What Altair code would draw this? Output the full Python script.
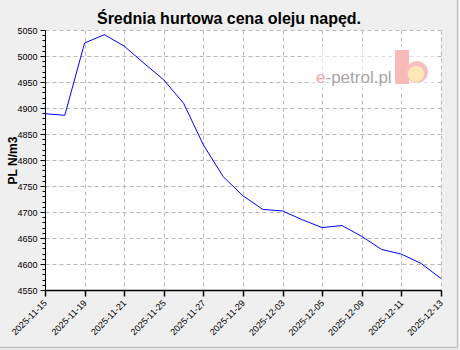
import altair as alt
import pandas as pd

# ---- data ----
dates = ["2025-11-15", "2025-11-18", "2025-11-19", "2025-11-20", "2025-11-21",
         "2025-11-22", "2025-11-25", "2025-11-26", "2025-11-27", "2025-11-28",
         "2025-11-29", "2025-12-02", "2025-12-03", "2025-12-04", "2025-12-05",
         "2025-12-06", "2025-12-09", "2025-12-10", "2025-12-11", "2025-12-12",
         "2025-12-13"]
prices = [4889, 4886, 5025, 5041, 5019, 4986, 4954, 4909, 4829, 4768,
          4731, 4705, 4702, 4685, 4670, 4674, 4653, 4628, 4619, 4601, 4572]
tick_dates = dates[::2]
y_ticks = list(range(4550, 5051, 10))
title_text = "Średnia hurtowa cena oleju napęd."
y_title = "PL N/m3"

df = pd.DataFrame({"date": dates, "price": prices})

FONT = "Liberation Sans"
W, H = 396, 260

base = alt.Chart(df)

line = base.mark_line(color="#0000ff", strokeWidth=1).encode(
    x=alt.X("date:O",
            scale=alt.Scale(type="point", padding=0),
            axis=alt.Axis(values=tick_dates, labelAngle=-45, labelAlign="right",
                          labelBaseline="middle", labelFontSize=9, labelFont=FONT,
                          labelColor="black", labelPadding=5,
                          domainColor="black", domainWidth=1.5,
                          tickColor="black", tickSize=6, tickWidth=1.5,
                          grid=True, gridDash=[4, 3], gridColor="#b9b9b9",
                          title=None)),
    y=alt.Y("price:Q",
            scale=alt.Scale(domain=[4550, 5050], nice=False, zero=False),
            axis=alt.Axis(values=y_ticks,
                          labelExpr="datum.value % 50 === 0 ? datum.label : ''",
                          format="d", labelFontSize=9, labelFont=FONT,
                          labelColor="black", labelPadding=3,
                          domainColor="black", domainWidth=1,
                          tickColor="black", tickWidth=1,
                          tickSize={"condition": {"test": "datum.value % 50 === 0", "value": 5}, "value": 3},
                          grid=True, gridDash=[4, 3], gridColor="#b9b9b9",
                          gridOpacity={"condition": {"test": "datum.value % 50 === 0", "value": 1}, "value": 0},
                          title=y_title, titleFont=FONT, titleFontSize=12,
                          titleFontWeight="bold", titleColor="black",
                          titleX=-33, titleY=H / 2, titleAngle=-90,
                          titleAlign="center", titleBaseline="middle")),
)

# ---- chart title (as a text mark, centred on the whole picture) ----
title_mark = alt.Chart(df.head(1)).mark_text(text=title_text, font=FONT, fontSize=16,
                                             fontWeight="bold", fill="black",
                                             align="center", baseline="alphabetic").encode(
    x=alt.value(184), y=alt.value(-6))

# ---- watermark logo (decoration) ----
logo_bg = alt.Chart(df.head(1)).mark_rect(color="white", opacity=0.55).encode(
    x=alt.value(265), x2=alt.value(392), y=alt.value(16), y2=alt.value(63))
logo_e = alt.Chart(df.head(1)).mark_text(text="e", fill="#f3a5a5", fontSize=17, font=FONT,
                                         align="left", baseline="alphabetic").encode(
    x=alt.value(271), y=alt.value(53))
logo_rest = alt.Chart(df.head(1)).mark_text(text="-petrol.pl", fill="#a6a6a6", fontSize=17, font=FONT,
                                            align="left", baseline="alphabetic").encode(
    x=alt.value(280.5), y=alt.value(53))
logo_rect = alt.Chart(df.head(1)).mark_rect(color="#f8b9b9").encode(
    x=alt.value(350), x2=alt.value(364), y=alt.value(20), y2=alt.value(54))
logo_c1 = alt.Chart(df.head(1)).mark_point(filled=True, color="#f8c0c0", opacity=1, size=480, shape="circle").encode(
    x=alt.value(372), y=alt.value(42))
logo_c2 = alt.Chart(df.head(1)).mark_point(filled=True, color="#fde8b8", opacity=1, size=260, shape="circle").encode(
    x=alt.value(371), y=alt.value(44))

# frame lines (right / bottom edge of the image)
frame_r = alt.Chart(df.head(1)).mark_rule(color="#c4c4c4", strokeWidth=1.5).encode(
    x=alt.value(412.5), y=alt.value(-30), y2=alt.value(317.5))
frame_b = alt.Chart(df.head(1)).mark_rule(color="#c4c4c4", strokeWidth=1.5).encode(
    x=alt.value(-45), x2=alt.value(413), y=alt.value(317.5))

chart = alt.layer(logo_bg, logo_e, logo_rest, logo_rect, logo_c1, logo_c2, line,
                  title_mark, frame_r, frame_b).properties(
    width=W, height=H,
    autosize=alt.AutoSizeParams(type="none"),
    padding={"left": 45, "top": 30, "right": 19, "bottom": 60},
    background="#efefef",
).configure_view(fill="white", stroke=None)

chart.save("out.html", embed_options={"renderer": "svg", "actions": False})
